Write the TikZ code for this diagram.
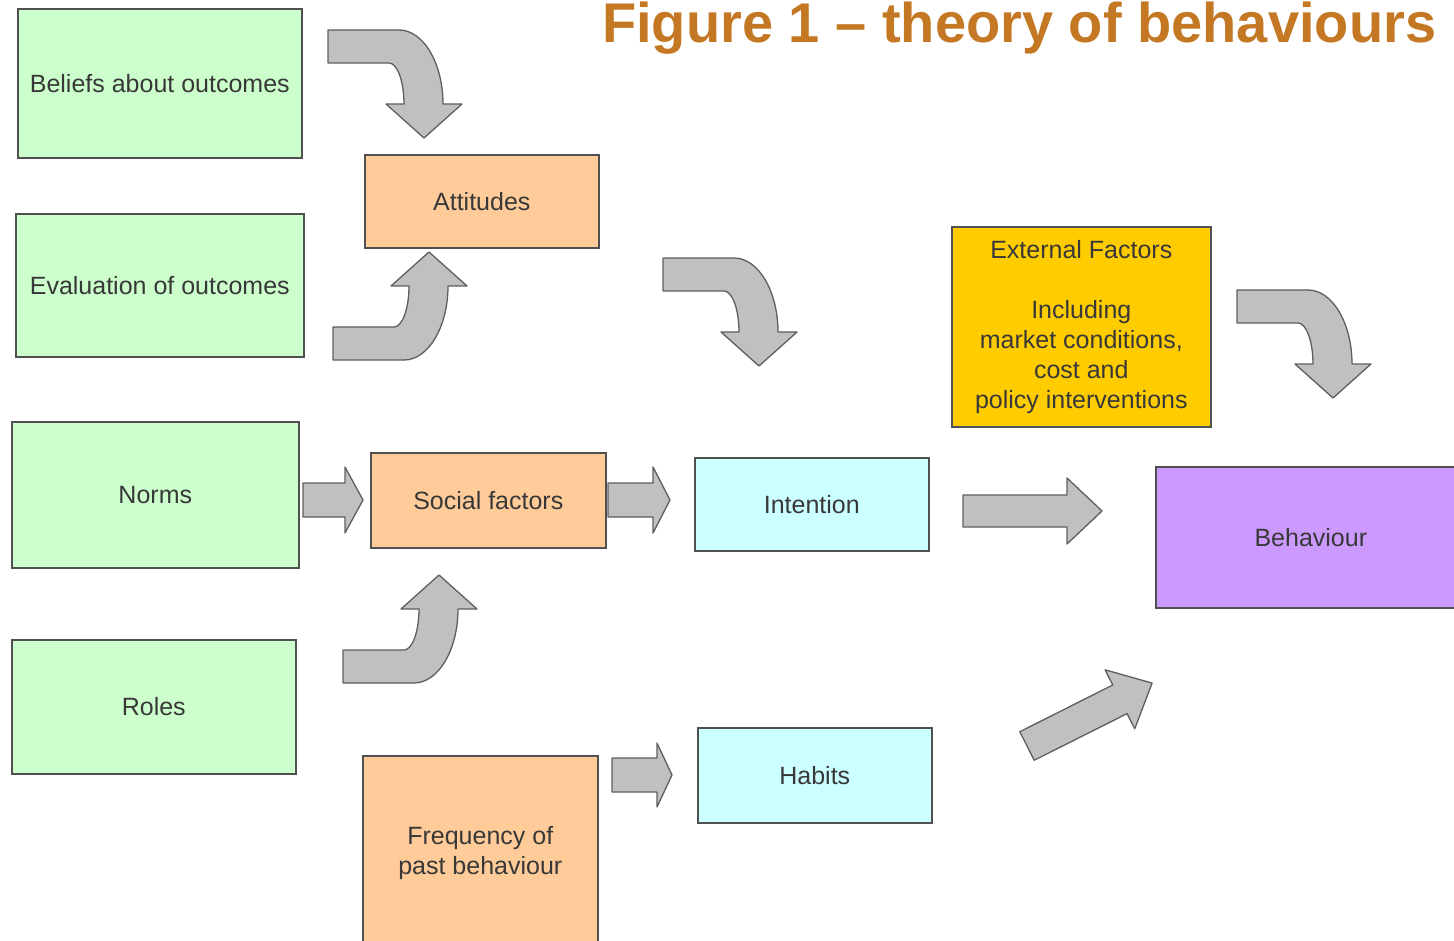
\documentclass[tikz,border=0pt]{standalone}
\usepackage{fontspec}
\setmainfont{Liberation Sans}
\definecolor{greenbox}{HTML}{CCFFCC}
\definecolor{orangebox}{HTML}{FFCC99}
\definecolor{cyanbox}{HTML}{CCFFFF}
\definecolor{extbox}{HTML}{FFCC00}
\definecolor{purplebox}{HTML}{CC99FF}
\definecolor{boxline}{HTML}{505050}
\definecolor{arrowfill}{HTML}{C0C0C0}
\definecolor{arrowline}{HTML}{5E5E5E}
\definecolor{titlecol}{RGB}{196,120,36}
\definecolor{txt}{HTML}{383838}

% straight block arrow pointing along +x: length, shaft half-width, head half-width, head length
\newcommand\blockarrowpath[4]{(0,#2) -- ({#1-#4},#2) -- ({#1-#4},#3) -- (#1,0) -- ({#1-#4},-#3) -- ({#1-#4},-#2) -- (0,-#2) -- cycle}
% bent block arrow: horizontal shaft turning down into an arrow head
\newcommand\bendpath{(0,0) -- (71,0) arc[start angle=90,end angle=0,x radius=44,y radius=74] -- (134,-74) -- (96,-108) -- (58,-74) -- (76,-74) arc[start angle=0,end angle=90,x radius=15,y radius=41] -- (0,-33) -- cycle}

\tikzset{
  box/.style={draw=boxline, line width=1.6pt, anchor=north west, align=center,
    inner sep=2pt, text=txt, font=\fontsize{25}{30}\selectfont},
  blockarrow/.style={draw=arrowline, fill=arrowfill, line width=1.3pt, line join=round},
}

\begin{document}
\begin{tikzpicture}[x=1pt,y=1pt]
\clip (0,0) rectangle (1454,-941);
\fill[white] (0,0) rectangle (1454,-941);

% title
\node[anchor=base west, inner sep=0pt, text=titlecol,
  font=\fontsize{56}{60}\selectfont\bfseries] (title) at (602,-43)
  {Figure 1 -- theory of behaviours};

% left column
\node[box, fill=greenbox, minimum width=284, minimum height=149] (beliefs) at (17,-8) {Beliefs about outcomes};
\node[box, fill=greenbox, minimum width=288, minimum height=143] (evaluation) at (15,-213) {Evaluation of outcomes};
\node[box, fill=greenbox, minimum width=287, minimum height=146] (norms) at (11,-421) {Norms};
\node[box, fill=greenbox, minimum width=284, minimum height=134] (roles) at (11,-639) {Roles};

% middle column
\node[box, fill=orangebox, minimum width=234, minimum height=93] (attitudes) at (364,-154) {Attitudes};
\node[box, fill=orangebox, minimum width=235, minimum height=95] (social) at (370,-452) {Social factors};
\node[box, fill=orangebox, minimum width=235, minimum height=194] (frequency) at (362,-755) {Frequency of\\past behaviour};

\node[box, fill=cyanbox, minimum width=234, minimum height=93] (intention) at (694,-457) {Intention};
\node[box, fill=cyanbox, minimum width=234, minimum height=95] (habits) at (697,-727) {Habits};

% right column
\node[box, fill=extbox, minimum width=259, minimum height=200] (external) at (951,-226)
  {External Factors\\[30pt]Including\\market conditions,\\cost and\\policy interventions};
\node[box, fill=purplebox, minimum width=310, minimum height=141] (behaviour) at (1155,-466) {Behaviour};

% bent arrows
\draw[blockarrow, shift={(328,-30)}] \bendpath;
\draw[blockarrow, shift={(333,-360)}, yscale=-1] \bendpath;
\draw[blockarrow, shift={(663,-258)}] \bendpath;
\draw[blockarrow, shift={(343,-683)}, yscale=-1] \bendpath;
\draw[blockarrow, shift={(1237,-290)}] \bendpath;

% straight arrows
\draw[blockarrow, shift={(303,-500)}] \blockarrowpath{60}{17}{33}{18};
\draw[blockarrow, shift={(608,-500)}] \blockarrowpath{62}{17}{33}{17};
\draw[blockarrow, shift={(963,-511)}] \blockarrowpath{139}{16}{33}{35};
\draw[blockarrow, shift={(612,-775)}] \blockarrowpath{60}{17}{32}{15};
\draw[blockarrow, shift={(1027,-746)}, rotate=26.7] \blockarrowpath{140}{16}{33}{36};
\end{tikzpicture}
\end{document}
